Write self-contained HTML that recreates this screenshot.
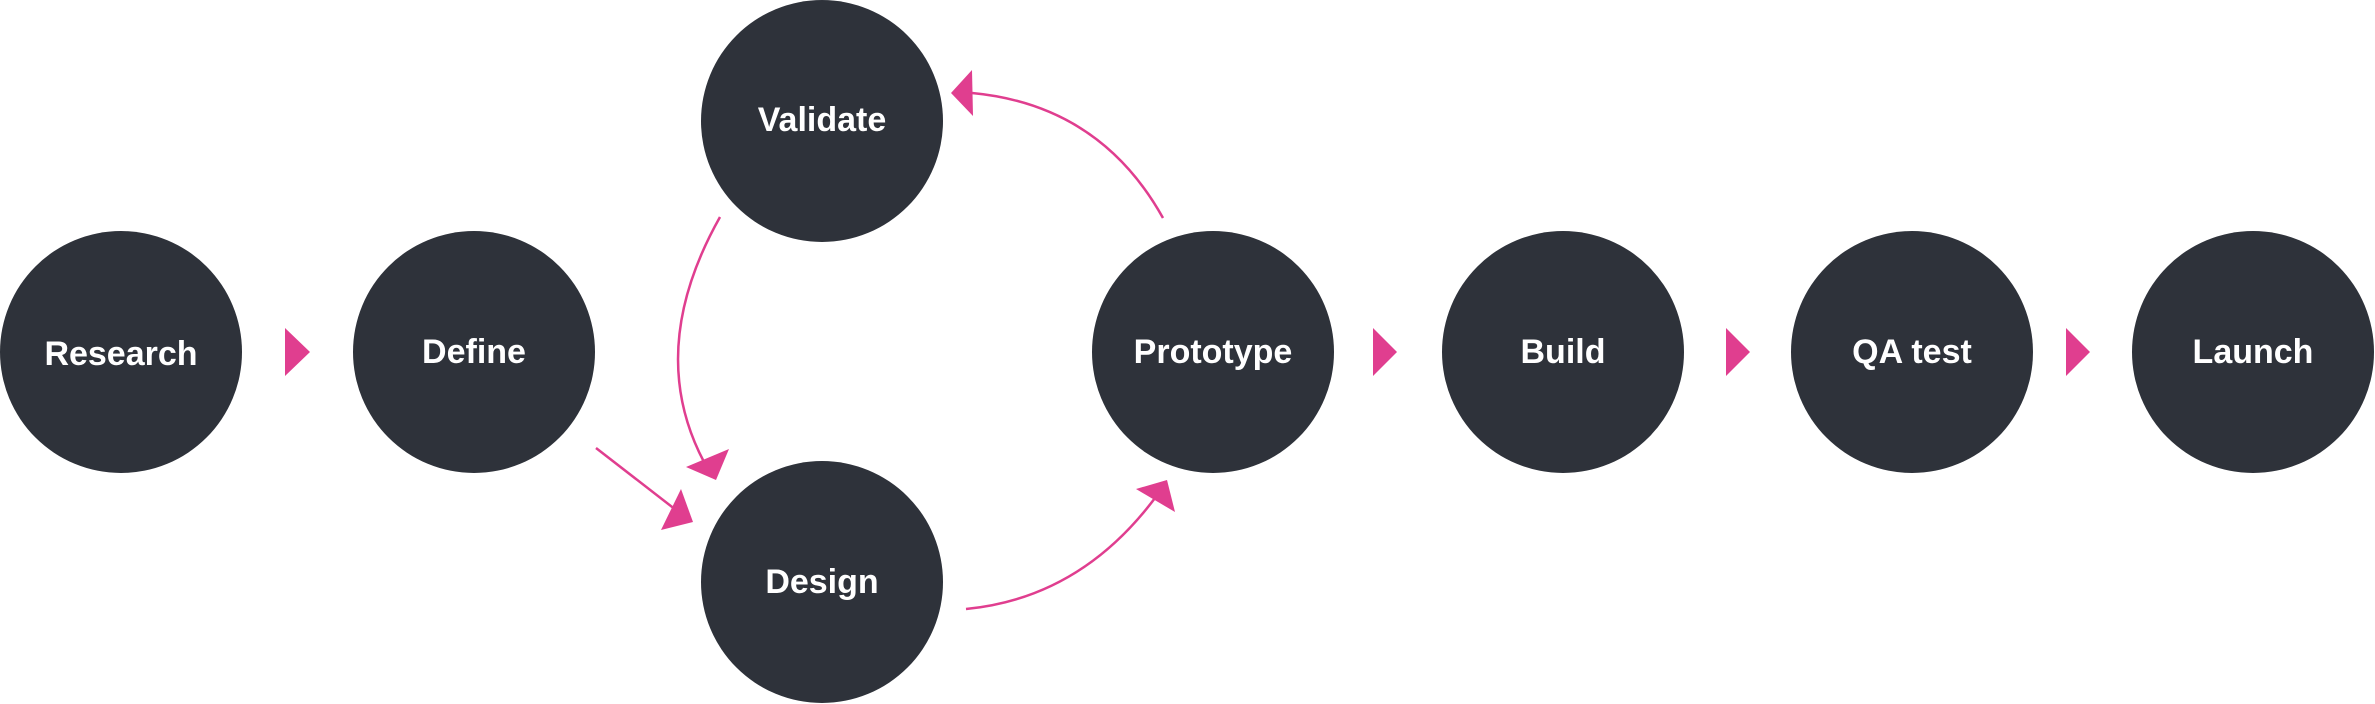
<!DOCTYPE html>
<html><head><meta charset="utf-8"><style>
html,body{margin:0;padding:0;background:#fff;}
body{position:relative;width:2375px;height:704px;overflow:hidden}
svg{display:block;position:absolute;left:0;top:0}
.t{position:absolute;width:300px;margin-left:-150px;text-align:center;font-family:"Liberation Sans",sans-serif;font-weight:bold;font-size:34px;line-height:40px;margin-top:-20px;color:#fff}
</style></head><body>
<svg width="2375" height="704" viewBox="0 0 2375 704" xmlns="http://www.w3.org/2000/svg">
<g fill="#2e323a">
<circle cx="121" cy="352" r="121"/>
<circle cx="474" cy="352" r="121"/>
<circle cx="822" cy="121" r="121"/>
<circle cx="822" cy="582" r="121"/>
<circle cx="1213" cy="352" r="121"/>
<circle cx="1563" cy="352" r="121"/>
<circle cx="1912" cy="352" r="121"/>
<circle cx="2253" cy="352" r="121"/>
</g>
<g fill="#e03e8f">
<polygon points="285,328 310,352 285,376"/>
<polygon points="1373,328 1397,352 1373,376"/>
<polygon points="1726,328 1750,352 1726,376"/>
<polygon points="2066,328 2090,352 2066,376"/>
<polygon points="686,467 729,449 716,480"/>
<polygon points="661,530 681,489 693,522"/>
<polygon points="1136,489 1167,480 1175,512"/>
<polygon points="951,93 972,70 973,116"/>
</g>
<g fill="none" stroke="#e03e8f" stroke-width="2.5">
<path d="M720,217 Q645,350 704,462"/>
<path d="M596,448 L676,510"/>
<path d="M966,609 Q1080,598 1155,498"/>
<path d="M1163,218 Q1100,105 972,93"/>
</g>
</svg>
<div class="t" style="left:121px;top:354px">Research</div>
<div class="t" style="left:474px;top:352px">Define</div>
<div class="t" style="left:822px;top:120px">Validate</div>
<div class="t" style="left:822px;top:582px">Design</div>
<div class="t" style="left:1213px;top:352px">Prototype</div>
<div class="t" style="left:1563px;top:352px">Build</div>
<div class="t" style="left:1912px;top:352px">QA test</div>
<div class="t" style="left:2253px;top:352px">Launch</div>
</body></html>
